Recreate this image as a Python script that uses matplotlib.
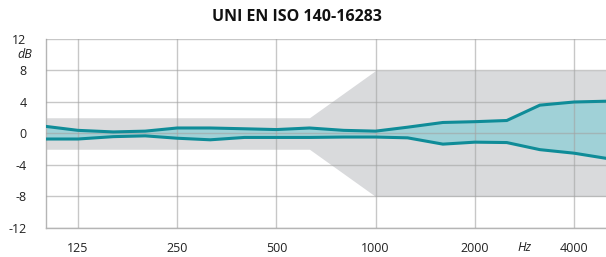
import numpy as np
import matplotlib
matplotlib.use('Agg')
import matplotlib.pyplot as plt

plt.rcParams['font.family'] = ['Open Sans', 'DejaVu Sans']

# third-octave bands, Hz
freqs = [100, 125, 160, 200, 250, 315, 400, 500, 630, 800,
         1000, 1250, 1600, 2000, 2500, 3150, 4000, 5000]
upper = [0.9, 0.4, 0.2, 0.3, 0.7, 0.7, 0.6, 0.5, 0.7, 0.4,
         0.3, 0.8, 1.4, 1.5, 1.65, 3.6, 4.0, 4.1]
lower = [-0.7, -0.7, -0.4, -0.3, -0.6, -0.8, -0.5, -0.5, -0.5, -0.45,
         -0.45, -0.55, -1.35, -1.1, -1.15, -2.05, -2.5, -3.15]

# tolerance envelope
tol_f = [100, 630, 1000, 5000]
tol_db = [2, 2, 8, 8]

xticks = [125, 250, 500, 1000, 2000, 4000]
yticks = [-12, -8, -4, 0, 4, 8, 12]

teal = '#0f8c98'
fill = '#a0d1d7'
grey = '#d9dadc'
grid = '#a3a3a3'

fig = plt.figure(figsize=(6.06, 2.57), dpi=100)
ax = fig.add_axes([46/606, 1 - 228/257, 1 - 46/606, 189/257])

ax.set_xscale('log')
ax.fill_between(tol_f, [-t for t in tol_db], tol_db, color=grey, lw=0, zorder=1)
ax.fill_between(freqs, lower, upper, color=fill, lw=0, zorder=2)

for y in yticks:
    ax.axhline(y, color=grid, lw=1, alpha=0.6, zorder=3)
for x in xticks:
    ax.axvline(x, color=grid, lw=1, alpha=0.6, zorder=3)

ax.plot(freqs, upper, color=teal, lw=2.2, zorder=4, solid_joinstyle='miter')
ax.plot(freqs, lower, color=teal, lw=2.2, zorder=4, solid_joinstyle='miter')

ax.set_xlim(100, 5000)
ax.set_ylim(-12, 12)
ax.set_xticks(xticks)
ax.set_xticklabels([str(x) for x in xticks])
ax.minorticks_off()
ax.set_yticks(yticks)
ax.set_yticklabels([str(y) for y in yticks])
ax.tick_params(length=0, labelsize=9, colors='#222222')
ax.tick_params(axis='y', pad=14)
ax.tick_params(axis='x', pad=10)

for s in ['top', 'right']:
    ax.spines[s].set_visible(False)
for s in ['left', 'bottom']:
    ax.spines[s].set_color('#b5b5b5')
    ax.spines[s].set_linewidth(1)

ax.text(-14/566, 10, 'dB', transform=ax.get_yaxis_transform(), ha='right', va='center',
        fontsize=9, style='italic', color='#222222')
ax.text(np.sqrt(2000*4000), -14.5, 'Hz', ha='center', va='center',
        fontsize=9, style='italic', color='#222222', clip_on=False)

fig.text(0.49, 1 - 17/257, 'UNI EN ISO 140-16283', ha='center', va='center',
         fontsize=11.5, fontweight='bold', color='#111111')

fig.savefig('out.png', dpi=100)
